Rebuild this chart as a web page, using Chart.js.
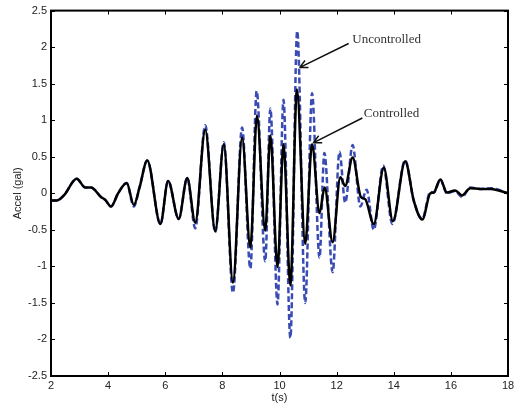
<!DOCTYPE html>
<html>
<head>
<meta charset="utf-8">
<script src="https://cdn.jsdelivr.net/npm/chart.js@4.4.1/dist/chart.umd.min.js"></script>
<style>
  html, body { margin: 0; padding: 0; background: #fff; }
  #wrap { width: 530px; height: 405px; }
</style>
</head>
<body>
<div id="wrap"><canvas id="accelChart" width="530" height="405"></canvas></div>
<script>
// time (s) and acceleration (gal)
const tControlled = [2, 2.2, 2.45, 2.9, 3.2, 3.4, 3.75, 3.9, 4.1, 4.35, 4.65, 4.9, 5.1, 5.37, 5.83, 6.1, 6.47, 6.77, 7.05, 7.4, 7.75, 8.05, 8.37, 8.69, 8.98, 9.21, 9.5, 9.68, 9.93, 10.14, 10.38, 10.61, 10.9, 11.14, 11.4, 11.58, 11.86, 12.13, 12.3, 12.56, 12.85, 13.0, 13.3, 13.65, 13.97, 14.4, 14.7, 15.0, 15.28, 15.4, 15.63, 15.86, 16.15, 16.39, 16.68, 17.03, 17.4, 18];
const accelControlled = [-0.1, -0.1, -0.03, 0.2, 0.08, 0.08, -0.05, -0.09, -0.18, 0.0, 0.14, -0.16, 0.08, 0.45, -0.42, 0.17, -0.35, 0.21, -0.4, 0.87, -0.52, 0.67, -1.22, 0.76, -0.74, 1.06, -0.51, 0.79, -1.01, 0.67, -1.26, 1.42, -0.69, 0.67, -0.27, 0.08, -0.67, 0.22, 0.1, 0.49, -0.05, -0.08, -0.42, 0.35, -0.38, 0.44, -0.1, -0.36, 0.0, 0.01, 0.19, 0.01, 0.04, -0.03, 0.07, 0.06, 0.06, 0];

const tUncontrolled = [2, 2.2, 2.45, 2.9, 3.2, 3.4, 3.75, 3.9, 4.1, 4.35, 4.65, 4.9, 5.1, 5.37, 5.83, 6.1, 6.47, 6.77, 7.05, 7.4, 7.75, 8.05, 8.37, 8.69, 8.98, 9.2, 9.5, 9.68, 9.93, 10.14, 10.38, 10.62, 10.9, 11.14, 11.4, 11.57, 11.86, 12.1, 12.3, 12.56, 12.83, 13.05, 13.3, 13.63, 13.95, 14.4, 14.7, 15.0, 15.28, 15.4, 15.63, 15.86, 16.15, 16.39, 16.68, 17.03, 17.4, 18];
const accelUncontrolled = [-0.1, -0.1, -0.03, 0.2, 0.08, 0.08, -0.05, -0.09, -0.18, 0.0, 0.14, -0.18, 0.08, 0.45, -0.42, 0.17, -0.35, 0.21, -0.48, 0.93, -0.53, 0.7, -1.36, 0.9, -1.03, 1.4, -0.93, 1.16, -1.52, 1.28, -1.98, 2.22, -1.5, 1.37, -0.88, 0.55, -1.08, 0.57, -0.13, 0.66, -0.18, 0.05, -0.5, 0.38, -0.42, 0.45, -0.1, -0.35, 0.02, 0.01, 0.19, 0.0, 0.03, -0.05, 0.08, 0.06, 0.07, 0];

const xTicks = [2, 4, 6, 8, 10, 12, 14, 16, 18];
const yTicks = [-2.5, -2, -1.5, -1, -0.5, 0, 0.5, 1, 1.5, 2, 2.5];

// callouts: text anchor and arrow (tail -> tip) in data units
const callouts = [
  { text: "Uncontrolled", tx: 12.55, ty: 2.1, from: [12.42, 2.05], to: [10.7, 1.72] },
  { text: "Controlled", tx: 12.95, ty: 1.09, from: [12.9, 1.03], to: [11.18, 0.69] }
];

function toPoints(ts, vs) {
  return ts.map((t, i) => ({ x: t, y: vs[i] }));
}

// box around the plot with inward ticks, like the original
const boxPlugin = {
  id: "box",
  afterDatasetsDraw(chart) {
    const { ctx, chartArea: a, scales } = chart;
    ctx.save();
    ctx.strokeStyle = "#000";
    ctx.lineWidth = 1;
    xTicks.forEach((v) => {
      const px = Math.round(scales.x.getPixelForValue(v)) + 0.5;
      ctx.beginPath();
      ctx.moveTo(px, a.bottom); ctx.lineTo(px, a.bottom - 4);
      ctx.moveTo(px, a.top); ctx.lineTo(px, a.top + 4);
      ctx.stroke();
    });
    yTicks.forEach((v) => {
      const py = Math.round(scales.y.getPixelForValue(v)) + 0.5;
      ctx.beginPath();
      ctx.moveTo(a.left, py); ctx.lineTo(a.left + 4, py);
      ctx.moveTo(a.right, py); ctx.lineTo(a.right - 4, py);
      ctx.stroke();
    });
    ctx.lineWidth = 2;
    ctx.strokeRect(a.left, a.top, a.right - a.left, a.bottom - a.top);

    // callout arrows and labels
    ctx.font = "13px 'Liberation Serif', serif";
    ctx.fillStyle = "#333";
    ctx.textBaseline = "middle";
    ctx.lineWidth = 1.5;
    ctx.strokeStyle = "#111";
    callouts.forEach((c) => {
      const x1 = scales.x.getPixelForValue(c.from[0]);
      const y1 = scales.y.getPixelForValue(c.from[1]);
      const x2 = scales.x.getPixelForValue(c.to[0]);
      const y2 = scales.y.getPixelForValue(c.to[1]);
      const ang = Math.atan2(y2 - y1, x2 - x1);
      ctx.beginPath();
      ctx.moveTo(x1, y1); ctx.lineTo(x2, y2);
      ctx.moveTo(x2, y2);
      ctx.lineTo(x2 - 9 * Math.cos(ang - 0.45), y2 - 9 * Math.sin(ang - 0.45));
      ctx.moveTo(x2, y2);
      ctx.lineTo(x2 - 9 * Math.cos(ang + 0.45), y2 - 9 * Math.sin(ang + 0.45));
      ctx.stroke();
      ctx.fillText(c.text, scales.x.getPixelForValue(c.tx), scales.y.getPixelForValue(c.ty));
    });
    ctx.restore();
  }
};

const ctx = document.getElementById("accelChart");

new Chart(ctx, {
  type: "line",
  data: {
    datasets: [
      {
        label: "Controlled",
        data: toPoints(tControlled, accelControlled),
        borderColor: "#000",
        borderWidth: 2.5,
        pointRadius: 0,
        cubicInterpolationMode: "monotone",
        fill: false
      },
      {
        label: "Uncontrolled",
        data: toPoints(tUncontrolled, accelUncontrolled),
        borderColor: "#3a4cb4",
        borderWidth: 2.5,
        borderDash: [6, 3],
        pointRadius: 0,
        cubicInterpolationMode: "monotone",
        fill: false
      }
    ]
  },
  options: {
    responsive: false,
    animation: false,
    layout: { padding: { top: 10, right: 22, left: 0, bottom: 0 } },
    plugins: {
      legend: { display: false },
      tooltip: { enabled: false }
    },
    scales: {
      x: {
        type: "linear",
        min: 2,
        max: 18,
        afterFit(scale) { scale.height = 29; },
        afterBuildTicks(scale) { scale.ticks = xTicks.map((v) => ({ value: v })); },
        grid: { display: false, drawTicks: false },
        border: { display: false },
        ticks: {
          padding: 3,
          color: "#222",
          callback: (v) => String(v),
          font: { family: "'Liberation Sans', Arial, sans-serif", size: 11 }
        },
        title: {
          display: true,
          text: "t(s)",
          color: "#222",
          padding: { top: 0, bottom: 0 },
          font: { family: "'Liberation Sans', Arial, sans-serif", size: 11 }
        }
      },
      y: {
        min: -2.5,
        max: 2.5,
        afterFit(scale) { scale.width = 51; },
        afterBuildTicks(scale) { scale.ticks = yTicks.map((v) => ({ value: v })); },
        grid: { display: false, drawTicks: false },
        border: { display: false },
        ticks: {
          padding: 4,
          color: "#222",
          callback: (v) => String(v),
          font: { family: "'Liberation Sans', Arial, sans-serif", size: 11 }
        },
        title: {
          display: true,
          text: "Accel (gal)",
          color: "#222",
          padding: { top: 11, bottom: 0 },
          font: { family: "'Liberation Sans', Arial, sans-serif", size: 11 }
        }
      }
    }
  },
  plugins: [boxPlugin]
});
</script>
</body>
</html>
